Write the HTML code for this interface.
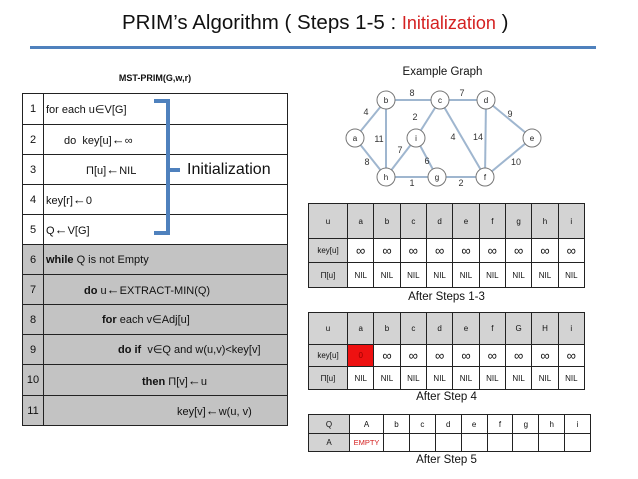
<!DOCTYPE html>
<html><head><style>
*{margin:0;padding:0;box-sizing:border-box}
body{width:638px;height:479px;background:#fff;position:relative;overflow:hidden;font-family:"Liberation Sans",sans-serif;color:#111}
.a{position:absolute}
table{border-collapse:collapse;position:absolute;table-layout:fixed}
td{border:1px solid #222;text-align:center;font-size:8px;padding:0;overflow:hidden;white-space:nowrap}
td.i{font-size:13px}
.g{background:#d3d3d3}
#lt td{font-size:11px;text-align:left;padding-left:2px}
#lt td.n{text-align:center;padding:0}
#lt tr.s td{background:#c3c3c3}
.cap{font-size:11.5px;text-align:center;width:277px}
.ar{font-size:13px}
</style></head><body>
<div class="a" style="left:122px;top:11px;font-size:20.5px;white-space:nowrap">PRIM’s Algorithm ( Steps 1-5 : <span style="color:#d42020;font-size:18px">Initialization</span> )</div>
<div class="a" style="left:30px;top:46px;width:566px;height:3px;background:#4f81bd"></div>

<div class="a" style="left:22px;top:73px;width:266px;text-align:center;font-size:9px;font-weight:bold">MST-PRIM(G,w,r)</div>
<table id="lt" style="left:22px;top:93px;width:266px">
<col style="width:21px"><col>
<tr style="height:31px"><td class="n">1</td><td>for each u∈V[G]</td></tr>
<tr style="height:30px"><td class="n">2</td><td style="padding-left:20px">do&nbsp; key[u]<span class="ar">←</span>∞</td></tr>
<tr style="height:30px"><td class="n">3</td><td style="padding-left:42px">Π[u]<span class="ar">←</span>NIL</td></tr>
<tr style="height:30px"><td class="n">4</td><td>key[r]<span class="ar">←</span>0</td></tr>
<tr style="height:30px"><td class="n">5</td><td>Q<span class="ar">←</span>V[G]</td></tr>
<tr class="s" style="height:30px"><td class="n">6</td><td><b>while</b> Q is not Empty</td></tr>
<tr class="s" style="height:30px"><td class="n">7</td><td style="padding-left:40px"><b>do</b> u<span class="ar">←</span>EXTRACT-MIN(Q)</td></tr>
<tr class="s" style="height:30px"><td class="n">8</td><td style="padding-left:58px"><b>for</b> each v∈Adj[u]</td></tr>
<tr class="s" style="height:30px"><td class="n">9</td><td style="padding-left:74px"><b>do if</b>&nbsp; v∈Q and w(u,v)&lt;key[v]</td></tr>
<tr class="s" style="height:31px"><td class="n">10</td><td style="padding-left:98px"><b>then</b> Π[v]<span class="ar">←</span>u</td></tr>
<tr class="s" style="height:30px"><td class="n">11</td><td style="padding-left:133px">key[v]<span class="ar">←</span>w(u, v)</td></tr>
</table>
<div class="a" style="left:187px;top:161px;font-size:16px;white-space:nowrap">Initialization</div>
<svg class="a" style="left:0;top:0" width="638" height="479">
<path d="M154 101 H168 V233 H154 M168 170 H180" fill="none" stroke="#4f81bd" stroke-width="4"/>
<g stroke="#9fb6cf" stroke-width="2">
<line x1="386" y1="100" x2="440" y2="100"/><line x1="440" y1="100" x2="486" y2="100"/>
<line x1="355" y1="138" x2="386" y2="100"/><line x1="355" y1="138" x2="386" y2="177"/>
<line x1="386" y1="100" x2="386" y2="177"/><line x1="440" y1="100" x2="416" y2="138"/>
<line x1="416" y1="138" x2="386" y2="177"/><line x1="416" y1="138" x2="437" y2="177"/>
<line x1="386" y1="177" x2="437" y2="177"/><line x1="437" y1="177" x2="485" y2="177"/>
<line x1="440" y1="100" x2="485" y2="177"/><line x1="486" y1="100" x2="485" y2="177"/>
<line x1="486" y1="100" x2="532" y2="138"/><line x1="532" y1="138" x2="485" y2="177"/>
</g>
<g fill="#fff" stroke="#777" stroke-width="1">
<circle cx="386" cy="100" r="9"/><circle cx="440" cy="100" r="9"/><circle cx="486" cy="100" r="9"/>
<circle cx="355" cy="138" r="9"/><circle cx="416" cy="138" r="9"/><circle cx="532" cy="138" r="9"/>
<circle cx="386" cy="177" r="9"/><circle cx="437" cy="177" r="9"/><circle cx="485" cy="177" r="9"/>
</g>
<g font-size="8" text-anchor="middle" font-family="Liberation Sans" fill="#222">
<text x="386" y="103">b</text><text x="440" y="103">c</text><text x="486" y="103">d</text>
<text x="355" y="141">a</text><text x="416" y="141">i</text><text x="532" y="141">e</text>
<text x="386" y="180">h</text><text x="437" y="180">g</text><text x="485" y="180">f</text>
</g>
<g font-size="9" text-anchor="middle" font-family="Liberation Sans" fill="#333">
<text x="412" y="96">8</text><text x="462" y="96">7</text><text x="366" y="115">4</text>
<text x="367" y="165">8</text><text x="379" y="142">11</text><text x="415" y="120">2</text>
<text x="400" y="153">7</text><text x="427" y="164">6</text><text x="412" y="186">1</text>
<text x="461" y="186">2</text><text x="453" y="140">4</text><text x="478" y="140">14</text>
<text x="510" y="117">9</text><text x="516" y="165">10</text>
</g>
</svg>
<div class="a" style="left:300px;top:66px;width:285px;text-align:center;font-size:11.5px">Example Graph</div>

<table style="left:308px;top:203px;width:277px">
<col style="width:39px"><col span="9">
<tr style="height:35px"><td class="g">u</td><td class="g">a</td><td class="g">b</td><td class="g">c</td><td class="g">d</td><td class="g">e</td><td class="g">f</td><td class="g">g</td><td class="g">h</td><td class="g">i</td></tr>
<tr style="height:24px"><td class="g">key[u]</td><td class="i">∞</td><td class="i">∞</td><td class="i">∞</td><td class="i">∞</td><td class="i">∞</td><td class="i">∞</td><td class="i">∞</td><td class="i">∞</td><td class="i">∞</td></tr>
<tr style="height:25px"><td class="g">Π[u]</td><td>NIL</td><td>NIL</td><td>NIL</td><td>NIL</td><td>NIL</td><td>NIL</td><td>NIL</td><td>NIL</td><td>NIL</td></tr>
</table>
<div class="a cap" style="left:308px;top:291px">After Steps 1-3</div>

<table style="left:308px;top:312px;width:277px">
<col style="width:39px"><col span="9">
<tr style="height:32px"><td class="g">u</td><td class="g">a</td><td class="g">b</td><td class="g">c</td><td class="g">d</td><td class="g">e</td><td class="g">f</td><td class="g">G</td><td class="g">H</td><td class="g">i</td></tr>
<tr style="height:22px"><td class="g">key[u]</td><td style="background:#ee1111;color:#900">0</td><td class="i">∞</td><td class="i">∞</td><td class="i">∞</td><td class="i">∞</td><td class="i">∞</td><td class="i">∞</td><td class="i">∞</td><td class="i">∞</td></tr>
<tr style="height:23px"><td class="g">Π[u]</td><td>NIL</td><td>NIL</td><td>NIL</td><td>NIL</td><td>NIL</td><td>NIL</td><td>NIL</td><td>NIL</td><td>NIL</td></tr>
</table>
<div class="a cap" style="left:308px;top:391px">After Step 4</div>

<table style="left:308px;top:414px;width:283px">
<col style="width:41px"><col style="width:34px"><col span="8">
<tr style="height:19px"><td class="g">Q</td><td>A</td><td>b</td><td>c</td><td>d</td><td>e</td><td>f</td><td>g</td><td>h</td><td>i</td></tr>
<tr style="height:18px"><td class="g">A</td><td style="color:#d42020;font-size:7.5px">EMPTY</td><td></td><td></td><td></td><td></td><td></td><td></td><td></td><td></td></tr>
</table>
<div class="a cap" style="left:308px;top:454px">After Step 5</div>
</body></html>
